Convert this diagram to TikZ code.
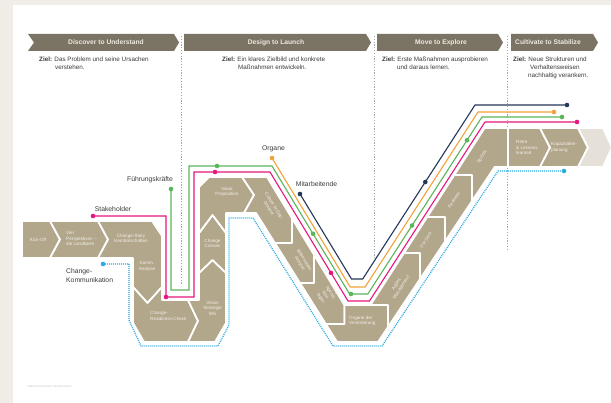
\documentclass[tikz,border=0pt]{standalone}
\usepackage{fontspec}
\setmainfont{Liberation Sans}
\definecolor{bgc}{HTML}{F0EDE6}
\definecolor{band}{HTML}{B2A68B}
\definecolor{bandlt}{HTML}{E5E1D9}
\definecolor{hdr}{HTML}{7B7363}
\definecolor{hdrtxt}{HTML}{EEEBE4}
\definecolor{shtxt}{HTML}{F3F0EA}
\definecolor{sepc}{HTML}{A8A8A8}
\definecolor{txt}{HTML}{3A3A3A}
\definecolor{cpink}{HTML}{E6177F}
\definecolor{cgreen}{HTML}{5BB55A}
\definecolor{corange}{HTML}{F5A13A}
\definecolor{cnavy}{HTML}{263759}
\definecolor{cblue}{HTML}{2AAAE2}
\definecolor{footc}{HTML}{C4C4C4}
\begin{document}
\begin{tikzpicture}[x=1pt,y=-1pt,
  bandshape/.style={fill=band, draw=white, line width=1.8pt, line join=round},
  hdrshape/.style={fill=hdr},
  htxt/.style={text=hdrtxt, font=\fontsize{6.7}{8}\selectfont\bfseries, inner sep=0pt},
  zl/.style={text=txt, font=\fontsize{6.3}{7.5}\selectfont, anchor=base west, inner sep=0pt},
  lbl/.style={text=txt, font=\fontsize{6.8}{9}\selectfont, inner sep=0pt},
  stxt/.style={text=shtxt, font=\fontsize{4.6}{5.6}\selectfont, align=center, inner sep=0pt},
  sepline/.style={draw=sepc, line width=0.8pt, dash pattern=on 1.3pt off 1.5pt},
  conn/.style={line width=1.1pt, line join=miter},
  dot/.style={circle, fill=#1, inner sep=0pt, minimum size=4.6pt}
]
\fill[bgc] (0,0) rectangle (611,403);
\fill[white] (13,5) rectangle (611,403);
\useasboundingbox (0,0) rectangle (611,403);

% header chevrons
\fill[hdrshape] (28,34) -- (174,34) -- (179,42.5) -- (174,51) -- (28,51) -- (34,42.5) -- cycle;
\node[htxt] (h1) at (106,42.5) {Discover to Understand};
\fill[hdrshape] (184,34) -- (366,34) -- (371,42.5) -- (366,51) -- (184,51) -- cycle;
\node[htxt] (h2) at (276,42.5) {Design to Launch};
\fill[hdrshape] (377,34) -- (498,34) -- (503,42.5) -- (498,51) -- (377,51) -- cycle;
\node[htxt] (h3) at (441,42.5) {Move to Explore};
\fill[hdrshape] (511,34) -- (593,34) -- (598,42.5) -- (593,51) -- (511,51) -- cycle;
\node[htxt] (h4) at (548,42.5) {Cultivate to Stabilize};

% goals
\node[zl] (z1a) at (39,61.5) {\textbf{Ziel:} Das Problem und seine Ursachen};
\node[zl] (z1b) at (55,69.5) {verstehen.};
\node[zl] (z2a) at (222,61.5) {\textbf{Ziel:} Ein klares Zielbild und konkrete};
\node[zl] (z2b) at (238,69.5) {Maßnahmen entwickeln.};
\node[zl] (z3a) at (382,61.5) {\textbf{Ziel:} Erste Maßnahmen ausprobieren};
\node[zl] (z3b) at (397,69.5) {und daraus lernen.};
\node[zl] (z4a) at (513,61.5) {\textbf{Ziel:} Neue Strukturen und};
\node[zl] (z4b) at (530,69.5) {Verhaltensweisen};
\node[zl] (z4c) at (528,77.5) {nachhaltig verankern.};

% phase separators
\draw[sepline] (181,36) -- (181,285);
\draw[sepline] (374,36) -- (374,258);
\draw[sepline] (507.5,36) -- (507.5,250);

% band shapes
\path[bandshape] (22,221) -- (50,221) -- (60,239.5) -- (50,258) -- (22,258) -- cycle;
\path[bandshape] (50,221) -- (98,221) -- (108,239.5) -- (98,258) -- (50,258) -- (60,239.5) -- cycle;
\path[bandshape] (98,221) -- (152,221) -- (162,236) -- (162,287) -- (147.5,303) -- (133,287) -- (133,258) -- (98,258) -- (108,239.5) -- cycle;
\path[bandshape] (133,287) -- (147.5,303) -- (162,287) -- (162,300) -- (188,300) -- (198,321) -- (188,342) -- (144,342) -- (133,323) -- cycle;
\path[bandshape] (188,300) -- (199,300) -- (199,273) -- (212.5,260) -- (226,273) -- (226,323) -- (215,342) -- (188,342) -- (198,321) -- cycle;
\path[bandshape] (199,273) -- (199,233) -- (212.5,215) -- (226,233) -- (226,273) -- (212.5,260) -- cycle;
\path[bandshape] (199,233) -- (199,187) -- (209,177) -- (242,177) -- (254,195) -- (244,213) -- (226,213) -- (226,233) -- (212.5,215) -- cycle;
\path[bandshape] (242,177) -- (267,177) -- (292,218.3) -- (292,243) -- (274.9,243) -- (256,213) -- (244,213) -- (254,195) -- cycle;
\path[bandshape] (292,218.3) -- (314,254.7) -- (314,283) -- (300,283) -- (274.9,243) -- (292,243) -- cycle;
\path[bandshape] (314,254.7) -- (344.4,305) -- (344.4,324) -- (325.8,324) -- (300,283) -- (314,283) -- cycle;
\path[bandshape] (344.4,305) -- (388,305) -- (388,327) -- (378,342) -- (337.1,342) -- (325.8,324) -- (344.4,324) -- cycle;
\path[bandshape] (388,305) -- (370.4,305) -- (404,253) -- (420,253) -- (420,279) -- (388,327) -- cycle;
\path[bandshape] (420,253) -- (404,253) -- (427.2,217) -- (445,217) -- (445,241.5) -- (420,279) -- cycle;
\path[bandshape] (445,217) -- (427.2,217) -- (454.3,175) -- (472,175) -- (472,201) -- (445,241.5) -- cycle;
\path[bandshape] (472,175) -- (454.3,175) -- (484.6,128) -- (508,128) -- (508,167) -- (494.7,167) -- (472,201) -- cycle;
\path[bandshape] (508,128) -- (540,128) -- (550,147.5) -- (540,167) -- (508,167) -- cycle;
\path[bandshape] (540,128) -- (578,128) -- (588,147.5) -- (578,167) -- (540,167) -- (550,147.5) -- cycle;
\path[bandshape, fill=bandlt] (578,128) -- (603,128) -- (612,147.5) -- (603,167) -- (578,167) -- (588,147.5) -- cycle;

% shape texts
\node[stxt] (tkick) at (38,239.5) {Kick-Off};
\node[stxt, align=left, anchor=west] (tvier) at (66,238.5) {Vier\\Perspektiven --\\die Landkarte};
\node[stxt] (tstory) at (131,238.5) {Change-Story\\Kernbotschaften};
\node[stxt] (tkomm) at (147,266.5) {Komm.\\Analyse};
\node[stxt, align=left, anchor=west] (tcrc) at (150,316) {Change-\\Readiness-Check};
\node[stxt] (tvis) at (212.5,308) {Vision\\Strategie\\WS};
\node[stxt] (tcan) at (212.5,243.5) {Change\\Canvas};
\node[stxt] (tvp) at (227,192) {Value\\Proposition};
\node[stxt, rotate=-58] (tcult) at (271,207) {Culture fit Gap\\Analyse};
\node[stxt, rotate=-58] (tstak) at (302,262) {Stakeholder-\\Analyse};
\node[stxt, rotate=-58] (tagent) at (328,294) {Change\\Agents\\fest-\\legen};
\node[stxt, align=left, anchor=west] (torg) at (349,321) {Organe der\\Veränderung};
\node[stxt, rotate=57] (tagil) at (399,286) {Agiles\\Management};
\node[stxt, rotate=57] (tfuer) at (426,240) {Für Dich};
\node[stxt, rotate=57] (tfeat) at (454,200) {Features};
\node[stxt, rotate=57] (tsprint) at (482,157) {Sprints};
\node[stxt, align=left, anchor=west] (tretro) at (516,147.5) {Retro\\\& Lessons\\learned};
\node[stxt, align=left, anchor=west] (tkap) at (551,147.5) {Kapazitäten-\\planung};

% dots
\node[dot=cnavy] (n1) at (300,194) {};
\node[dot=cnavy] (n2) at (425.3,182) {};
\node[dot=cnavy] (n3) at (567,105) {};
\node[dot=corange] (o1) at (272,158) {};
\node[dot=corange] (o2) at (554,112) {};
\node[dot=cgreen] (g1) at (171,189) {};
\node[dot=cgreen] (g2) at (217,166) {};
\node[dot=cgreen] (g3) at (313,233.8) {};
\node[dot=cgreen] (g4) at (351,294) {};
\node[dot=cgreen] (g5) at (412,225.5) {};
\node[dot=cgreen] (g6) at (467,140.2) {};
\node[dot=cgreen] (g7) at (562,117) {};
\node[dot=cpink] (p1) at (93,216) {};
\node[dot=cpink] (p2) at (166,297) {};
\node[dot=cpink] (p3) at (215,172) {};
\node[dot=cpink] (p4) at (331,272.9) {};
\node[dot=cpink] (p5) at (577,122) {};
\node[dot=cblue] (b1) at (103,264) {};
\node[dot=cblue] (b2) at (564,171) {};

% connectors
\draw[conn, cnavy] (n1.center) -- (351.5,279) -- (362.7,279) -- (n2.center) -- (475,105) -- (n3.center);
\draw[conn, corange] (o1.center) -- (350.2,287) -- (365.1,287) -- (478,112) -- (o2.center);
\draw[conn, cgreen] (g1.center) -- (171,290) -- (189,290) -- (189,166) -- (g2.center) -- (272,166) -- (g3.center) -- (349.6,294) -- (g4.center) -- (367.8,294) -- (g5.center) -- (g6.center) -- (482,117) -- (g7.center);
\draw[conn, cpink] (p1.center) -- (166,216) -- (p2.center) -- (194,297) -- (194,172) -- (p3.center) -- (270,172) -- (p4.center) -- (348,301) -- (369.5,301) -- (485,122) -- (p5.center);
\draw[conn, cblue, line width=1.2pt, dash pattern=on 1pt off 1pt] (b1.center) -- (129,264) -- (129,320) -- (141,346) -- (218,346) -- (229,325) -- (229,218) -- (253,218) -- (333,346) -- (382,346) -- (498,171) -- (b2.center);

% labels
\node[lbl] (lstake) at (113,209) {Stakeholder};
\node[lbl] (lfuehr) at (150,179.5) {Führungskräfte};
\node[lbl] (lorg) at (273.5,149) {Organe};
\node[lbl] (lmit) at (316.5,184) {Mitarbeitende};
\node[lbl, align=left, anchor=west] (lkomm) at (66,275.5) {Change-\\Kommunikation};

% footer
\node[text=footc, font=\fontsize{2.6}{3}\selectfont, anchor=west, inner sep=0pt] (foot) at (27,387) {©BERATERGRUPPE NEUWALDEGG};
\end{tikzpicture}
\end{document}
